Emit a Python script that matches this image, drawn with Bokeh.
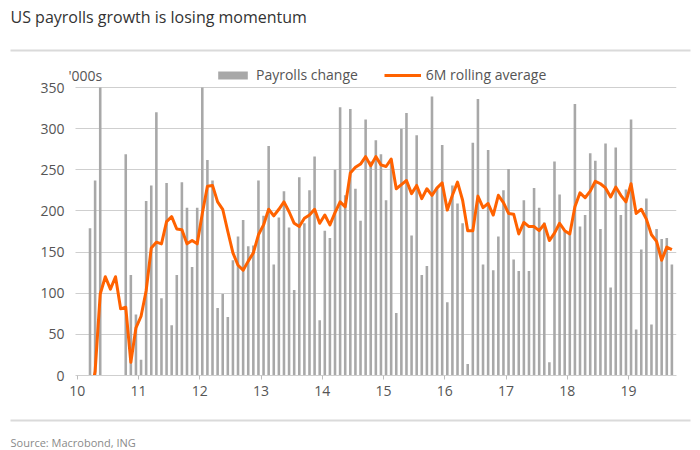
from bokeh.plotting import figure
from bokeh.models import Label, Legend, LegendItem, FixedTicker, Range1d, BoxAnnotation
from bokeh.layouts import column
from bokeh.embed import file_html
from bokeh.resources import INLINE

# ---------------- data ----------------
start_year = 2010
tick_years = [2010, 2011, 2012, 2013, 2014, 2015, 2016, 2017, 2018, 2019]
tick_labels = ["10", "11", "12", "13", "14", "15", "16", "17", "18", "19"]
y_ticks = [0, 50, 100, 150, 200, 250, 300, 350]
y_max = 350

# Monthly nonfarm payrolls change ('000s), Jan 2010 - Sep 2019
payrolls = [
    -14, -59, 179, 237, 520, -140, -70, -40, -55, 269, 122, 74,      # 2010
    19, 212, 231, 320, 94, 234, 61, 122, 235, 204, 132, 204,         # 2011
    360, 262, 237, 82, 99, 71, 140, 169, 189, 157, 158, 237,         # 2012
    194, 279, 135, 192, 224, 180, 104, 241, 185, 225, 266, 67,       # 2013
    176, 167, 250, 326, 219, 324, 227, 188, 311, 260, 286, 269,      # 2014
    213, 263, 76, 300, 319, 170, 292, 122, 133, 339, 229, 280,       # 2015
    89, 231, 209, 185, 14, 283, 336, 135, 274, 128, 169, 225,        # 2016
    251, 141, 127, 213, 127, 228, 204, 186, 16, 260, 220, 175,       # 2017
    172, 330, 181, 195, 270, 261, 178, 282, 107, 277, 195, 226,      # 2018
    311, 56, 153, 215, 62, 178, 166, 167, 135,                       # 2019
]

# 6M rolling average (starts Mar 2010)
rolling = [
    None, None, -30, 5, 99, 120, 105, 120, 81, 83, 16, 58,
    72, 103, 155, 162, 160, 187, 193, 178, 177, 160, 164, 160,
    197, 230, 231, 211, 202, 175, 149, 134, 128, 139, 149, 171,
    183, 202, 194, 202, 211, 199, 185, 181, 191, 195, 202, 185,
    195, 183, 198, 211, 205, 246, 253, 257, 266, 255, 266, 256,
    254, 263, 227, 232, 237, 221, 231, 215, 227, 219, 228, 234,
    201, 219, 235, 213, 176, 176, 218, 204, 209, 195, 219, 210,
    197, 196, 172, 186, 181, 181, 176, 184, 164, 173, 185, 176,
    172, 205, 222, 216, 224, 236, 233, 228, 217, 229, 219, 211,
    233, 197, 202, 190, 171, 163, 140, 156, 153,
]

xs = [start_year + (i + 0.5) / 12.0 for i in range(len(payrolls))]
bar_tops = [min(v, y_max) for v in payrolls]          # chart clips at the axis maximum
roll_x = [x for x, r in zip(xs, rolling) if r is not None]
roll_y = [r for r in rolling if r is not None]

FONT = "Open Sans"
BAR_COLOR = "#a8a8a8"
LINE_COLOR = "#ff6200"
TXT = "#555555"
SEP = "#dadada"
W = 700

# ---------------- top strip: title + separator ----------------
TOP_H = 58
pt = figure(width=W, height=TOP_H, output_backend="svg", toolbar_location=None,
            x_range=Range1d(0, W), y_range=Range1d(TOP_H, 0),
            x_axis_type=None, y_axis_type=None, min_border=0, frame_align=False)
pt.title.visible = False
pt.outline_line_color = None
pt.xgrid.visible = False
pt.ygrid.visible = False
pt.add_layout(Label(x=10, y=16, text="US payrolls growth is losing momentum",
                    text_font=FONT, text_font_size="16px", text_color="#333333",
                    text_baseline="middle", text_align="left"))
pt.add_layout(BoxAnnotation(left=10, right=690, top=49, bottom=51,
                            fill_color=SEP, fill_alpha=1, line_color=None))

# ---------------- main chart ----------------
PX_PER_YEAR = 61.25
TICK0_PX = 76.75           # page x of Jan 2010
FRAME_L, FRAME_R, FRAME_T, FRAME_B = 66, 676, 60, 375
FIG_T, FIG_B = TOP_H, 418
PX_PER_UNIT = 288 / 350.0

def X(px):
    return start_year + (px - TICK0_PX) / PX_PER_YEAR

def Y(py):
    return (FRAME_B - py) / PX_PER_UNIT

p = figure(width=W, height=FIG_B - FIG_T, output_backend="svg", toolbar_location=None,
           x_range=Range1d(X(FRAME_L), X(FRAME_R)), y_range=Range1d(0, Y(FRAME_T)),
           min_border_left=FRAME_L, min_border_right=W - FRAME_R,
           min_border_top=FRAME_T - FIG_T, min_border_bottom=FIG_B - FRAME_B,
           frame_align=False)
p.title.visible = False
p.outline_line_color = None

bars = p.vbar(x=xs, top=bar_tops, bottom=0, width=0.042, fill_color=BAR_COLOR, line_color=None)
line = p.line(x=roll_x, y=roll_y, line_color=LINE_COLOR, line_width=3, line_join="round")

p.xgrid.grid_line_color = None
p.ygrid.grid_line_color = "#cfcfcf"
p.ygrid.grid_line_width = 1
p.ygrid.cross_bounds = (X(75), X(FRAME_R))
p.yaxis.ticker = FixedTicker(ticks=y_ticks)
p.yaxis.axis_line_color = None
p.yaxis.major_tick_line_color = None
p.yaxis.major_tick_out = 0
p.yaxis.major_tick_in = 0
p.yaxis.minor_tick_line_color = None
p.yaxis.major_label_standoff = 2
p.yaxis.major_label_text_font = FONT
p.yaxis.major_label_text_font_size = "14px"
p.yaxis.major_label_text_color = TXT

p.xaxis.ticker = FixedTicker(ticks=tick_years)
p.xaxis.major_label_overrides = {y: l for y, l in zip(tick_years, tick_labels)}
p.xaxis.bounds = (X(75), X(FRAME_R))
p.xaxis.axis_line_color = "#cfcfcf"
p.xaxis.major_tick_line_color = "#bdbdbd"
p.xaxis.major_tick_out = 4
p.xaxis.major_tick_in = 0
p.xaxis.minor_tick_line_color = None
p.xaxis.major_label_standoff = 6
p.xaxis.major_label_text_font = FONT
p.xaxis.major_label_text_font_size = "14px"
p.xaxis.major_label_text_color = TXT

legend = Legend(items=[LegendItem(label="Payrolls change", renderers=[bars]),
                       LegendItem(label="6M rolling average", renderers=[line])],
                orientation="horizontal", location=(214 - FRAME_L, FRAME_B - 84),
                padding=0, margin=0, spacing=26, label_standoff=5,
                glyph_width=37, glyph_height=10,
                background_fill_alpha=0, border_line_alpha=0,
                label_text_font=FONT, label_text_font_size="14px", label_text_color=TXT)
p.add_layout(legend, "center")
p.add_layout(Label(x=X(68), y=Y(75), text="'000s", text_font=FONT, text_font_size="14px",
                   text_color=TXT, text_baseline="middle", text_align="left"))

# ---------------- bottom strip: separator + source ----------------
BOT_H = 450 - FIG_B
pb = figure(width=W, height=BOT_H, output_backend="svg", toolbar_location=None,
            x_range=Range1d(0, W), y_range=Range1d(BOT_H, 0),
            x_axis_type=None, y_axis_type=None, min_border=0, frame_align=False)
pb.title.visible = False
pb.outline_line_color = None
pb.xgrid.visible = False
pb.ygrid.visible = False
pb.add_layout(BoxAnnotation(left=10, right=690, top=1, bottom=3,
                            fill_color=SEP, fill_alpha=1, line_color=None))
pb.add_layout(Label(x=10, y=24, text="Source: Macrobond, ING", text_font=FONT,
                    text_font_size="11px", text_color="#8a8a8a",
                    text_baseline="middle", text_align="left"))

layout = column(pt, p, pb, spacing=0)
open("out.html", "w").write(file_html(layout, INLINE))
